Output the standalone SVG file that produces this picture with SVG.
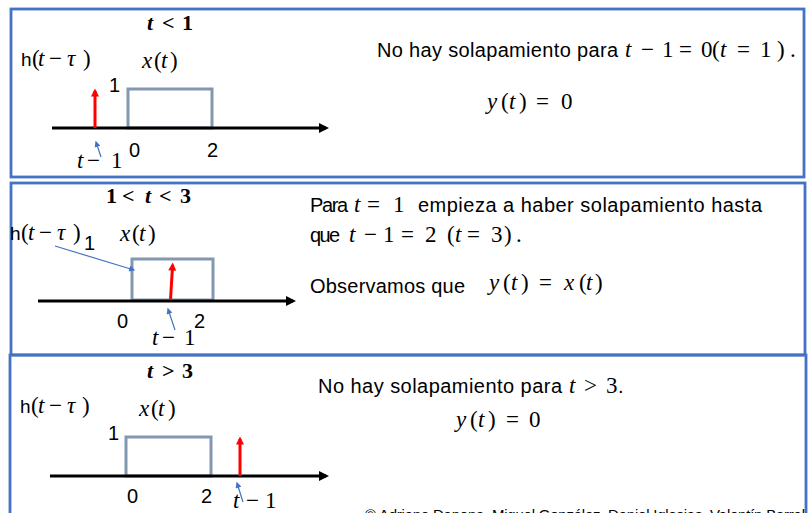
<svg xmlns="http://www.w3.org/2000/svg" width="811" height="513" viewBox="0 0 811 513">
<style>
.box{fill:none;stroke:#4472C4;stroke-width:2.8}
.s{font-family:"Liberation Sans",Arial,sans-serif;font-size:20px;fill:#000}
.h{font-family:"Liberation Sans",Arial,sans-serif;font-size:19px;fill:#000}
.m{font-family:"Liberation Serif","Times New Roman",serif;font-size:23px;fill:#000}
.mb{font-family:"Liberation Serif","Times New Roman",serif;font-size:22px;font-weight:bold;fill:#000}
.i{font-style:italic}
.axis{stroke:#000;stroke-width:3;fill:none}
.pulse{fill:none;stroke:#8497B0;stroke-width:3}
.delta{stroke:#FF0000;stroke-width:3;fill:none}
.ptr{stroke:#4472C4;stroke-width:1.2;fill:none}
.foot{font-family:"Liberation Sans",Arial,sans-serif;font-size:15px;fill:#000}
</style>
<defs>
<marker id="ah" viewBox="0 0 10 10" refX="7" refY="5" markerUnits="userSpaceOnUse" markerWidth="10" markerHeight="10" orient="auto"><path d="M0,0 L10,5 L0,10 z" fill="#000"/></marker>
<marker id="rh" viewBox="0 0 10 10" refX="7" refY="5" markerUnits="userSpaceOnUse" markerWidth="9" markerHeight="8" orient="auto"><path d="M0,0 L10,5 L0,10 z" fill="#FF0000"/></marker>
<marker id="bh" viewBox="0 0 10 10" refX="8" refY="5" markerUnits="userSpaceOnUse" markerWidth="7" markerHeight="6" orient="auto"><path d="M0,0 L10,5 L0,10 z" fill="#4472C4"/></marker>
</defs>
<rect width="811" height="513" fill="#fff"/>

<g id="panel1">
<rect class="box" x="11" y="9" width="793" height="168"/>
<text class="mb" y="30"><tspan x="147" class="i">t</tspan><tspan x="162">&lt;</tspan><tspan x="182">1</tspan></text>
<text class="h" x="21" y="66">h</text>
<text class="m" y="66"><tspan x="32">(</tspan><tspan x="38" class="i">t</tspan><tspan x="49">−</tspan><tspan x="67" class="i">τ</tspan><tspan x="83">)</tspan></text>
<text class="m" y="68"><tspan x="142" class="i">x</tspan><tspan x="154">(</tspan><tspan x="161" class="i">t</tspan><tspan x="170">)</tspan></text>
<text class="s" x="109" y="92">1</text>
<rect class="pulse" x="128" y="89" width="84" height="39"/>
<line class="axis" x1="52" y1="128" x2="326" y2="128" marker-end="url(#ah)"/>
<line class="delta" x1="95" y1="128" x2="95" y2="91" marker-end="url(#rh)"/>
<text class="s" x="129" y="157">0</text>
<text class="s" x="207" y="157">2</text>
<text class="m" y="168"><tspan x="77" class="i">t</tspan><tspan x="87">−</tspan><tspan x="111">1</tspan></text>
<text class="s" x="377" y="57" textLength="241" lengthAdjust="spacing">No hay solapamiento para</text>
<text class="m" y="57"><tspan x="625" class="i">t</tspan><tspan x="641">−</tspan><tspan x="662">1</tspan><tspan x="679">=</tspan><tspan x="701">0</tspan><tspan x="712">(</tspan><tspan x="720" class="i">t</tspan><tspan x="737">=</tspan><tspan x="760">1</tspan><tspan x="777">)</tspan><tspan x="790">.</tspan></text>
<text class="m" y="109"><tspan x="487" class="i">y</tspan><tspan x="501">(</tspan><tspan x="509" class="i">t</tspan><tspan x="519">)</tspan><tspan x="536">=</tspan><tspan x="561">0</tspan></text>
</g>

<g id="panel2">
<rect class="box" x="11" y="183" width="794" height="172"/>
<text class="mb" y="203"><tspan x="106">1</tspan><tspan x="122">&lt;</tspan><tspan x="145" class="i">t</tspan><tspan x="159">&lt;</tspan><tspan x="180">3</tspan></text>
<text class="h" x="10" y="240">h</text>
<text class="m" y="240"><tspan x="21">(</tspan><tspan x="28" class="i">t</tspan><tspan x="39">−</tspan><tspan x="57" class="i">τ</tspan><tspan x="73">)</tspan></text>
<text class="s" x="84" y="250">1</text>
<text class="m" y="241"><tspan x="120" class="i">x</tspan><tspan x="132">(</tspan><tspan x="139" class="i">t</tspan><tspan x="148">)</tspan></text>
<rect class="pulse" x="132" y="259" width="81" height="41"/>
<line class="axis" x1="38" y1="301" x2="293" y2="301" marker-end="url(#ah)"/>
<line class="delta" x1="170.5" y1="300" x2="172.6" y2="265" marker-end="url(#rh)"/>
<text class="s" x="117" y="328">0</text>
<text class="s" x="194" y="328">2</text>
<text class="m" y="345"><tspan x="152" class="i">t</tspan><tspan x="162">−</tspan><tspan x="184">1</tspan></text>
<text class="s" x="310" y="212" textLength="38" lengthAdjust="spacing">Para</text>
<text class="m" y="212"><tspan x="354" class="i">t</tspan><tspan x="367">=</tspan><tspan x="393">1</tspan></text>
<text class="s" x="418" y="212" textLength="344" lengthAdjust="spacing">empieza a haber solapamiento hasta</text>
<text class="s" x="310" y="242" textLength="30" lengthAdjust="spacing">que</text>
<text class="m" y="242"><tspan x="349" class="i">t</tspan><tspan x="364">−</tspan><tspan x="383">1</tspan><tspan x="401">=</tspan><tspan x="425">2</tspan><tspan x="447">(</tspan><tspan x="455" class="i">t</tspan><tspan x="467">=</tspan><tspan x="491">3</tspan><tspan x="504">)</tspan><tspan x="516">.</tspan></text>
<text class="s" x="310" y="293" textLength="155" lengthAdjust="spacing">Observamos que</text>
<text class="m" y="290"><tspan x="489" class="i">y</tspan><tspan x="503">(</tspan><tspan x="511" class="i">t</tspan><tspan x="521">)</tspan><tspan x="539">=</tspan><tspan x="564" class="i">x</tspan><tspan x="579">(</tspan><tspan x="586" class="i">t</tspan><tspan x="595">)</tspan></text>
</g>

<g id="panel3">
<rect class="box" x="10" y="355" width="796" height="170"/>
<text class="mb" y="378"><tspan x="147" class="i">t</tspan><tspan x="162">&gt;</tspan><tspan x="182">3</tspan></text>
<text class="h" x="20" y="413">h</text>
<text class="m" y="413"><tspan x="31">(</tspan><tspan x="38" class="i">t</tspan><tspan x="49">−</tspan><tspan x="67" class="i">τ</tspan><tspan x="82">)</tspan></text>
<text class="m" y="416"><tspan x="139" class="i">x</tspan><tspan x="151">(</tspan><tspan x="158" class="i">t</tspan><tspan x="168">)</tspan></text>
<text class="s" x="108" y="440">1</text>
<rect class="pulse" x="126" y="437" width="85" height="39"/>
<line class="axis" x1="50" y1="476" x2="326" y2="476" marker-end="url(#ah)"/>
<line class="delta" x1="240" y1="476" x2="240" y2="439" marker-end="url(#rh)"/>
<text class="s" x="127" y="503">0</text>
<text class="s" x="201" y="503">2</text>
<text class="m" y="508"><tspan x="233" class="i">t</tspan><tspan x="246">−</tspan><tspan x="265">1</tspan></text>
<text class="s" x="318" y="393" textLength="244" lengthAdjust="spacing">No hay solapamiento para</text>
<text class="m" y="393"><tspan x="569" class="i">t</tspan><tspan x="584">&gt;</tspan><tspan x="606">3</tspan></text>
<text class="s" x="618" y="393">.</text>
<text class="m" y="427"><tspan x="456" class="i">y</tspan><tspan x="470">(</tspan><tspan x="478" class="i">t</tspan><tspan x="488">)</tspan><tspan x="506">=</tspan><tspan x="529">0</tspan></text>
<text class="foot" x="365" y="520" textLength="440" lengthAdjust="spacing">© Adriana Dapena, Miguel González, Daniel Iglesias, Valentín Barral</text>
</g>

<g id="connectors">
<line class="ptr" x1="101" y1="157" x2="96" y2="142" marker-end="url(#bh)"/>
<line class="ptr" x1="55" y1="246" x2="134" y2="270" marker-end="url(#bh)"/>
<line class="ptr" x1="175" y1="330" x2="168" y2="309" marker-end="url(#bh)"/>
<line class="ptr" x1="243" y1="502" x2="237" y2="483" marker-end="url(#bh)"/>
</g>
</svg>
